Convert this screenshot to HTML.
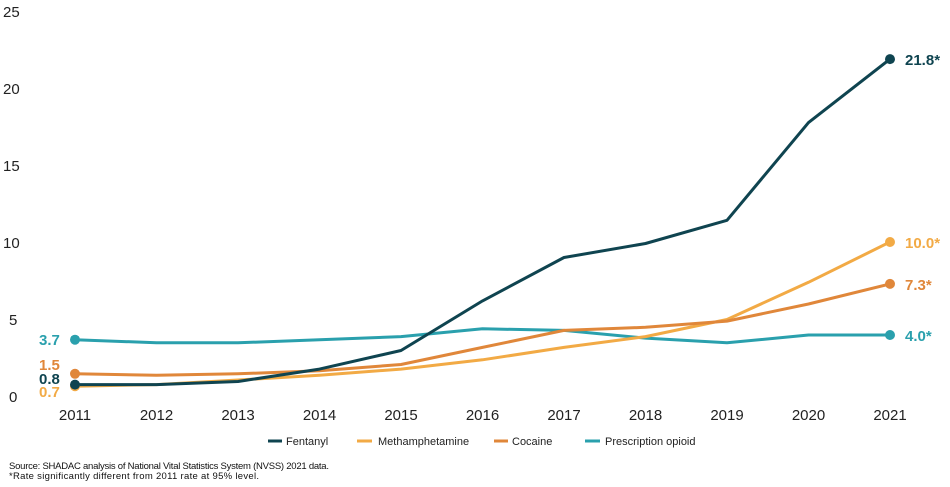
<!DOCTYPE html>
<html><head><meta charset="utf-8"><style>
body{margin:0;background:#fff;}
svg{display:block;font-family:"Liberation Sans",sans-serif;}
</style></head><body>
<svg width="950" height="487" viewBox="0 0 950 487">
<g font-size="15" fill="#222">
<text x="3" y="17">25</text>
<text x="3" y="94">20</text>
<text x="3" y="171">15</text>
<text x="3" y="248">10</text>
<text x="9" y="325">5</text>
<text x="9" y="402">0</text>
</g>
<g font-size="15" fill="#222" text-anchor="middle">
<text x="75" y="420">2011</text><text x="156.5" y="420">2012</text><text x="238" y="420">2013</text>
<text x="319.5" y="420">2014</text><text x="401" y="420">2015</text><text x="482.5" y="420">2016</text>
<text x="564" y="420">2017</text><text x="645.5" y="420">2018</text><text x="727" y="420">2019</text>
<text x="808.5" y="420">2020</text><text x="890" y="420">2021</text>
</g>
<g fill="none" stroke-width="3" stroke-linejoin="round" stroke-linecap="round">
<polyline stroke="#2aa0ad" points="75,339.7 156.5,342.8 238,342.8 319.5,339.7 401,336.6 482.5,328.8 564,330.4 645.5,338.1 727,342.8 808.5,335 890,335"/>
<polyline stroke="#f2aa45" points="75,386.2 156.5,384.6 238,380 319.5,375.3 401,369.1 482.5,359.8 564,347.4 645.5,336.6 727,319.5 808.5,282.3 890,242"/>
<polyline stroke="#e0873a" points="75,373.8 156.5,375.3 238,373.8 319.5,370.7 401,364.5 482.5,347.4 564,330.4 645.5,327.3 727,321.1 808.5,304 890,283.9"/>
<polyline stroke="#0f4450" points="75,384.6 156.5,384.6 238,381.5 319.5,369.1 401,350.5 482.5,300.9 564,257.5 645.5,243.5 727,220.3 808.5,122.6 890,59.1"/>
</g>
<circle cx="75" cy="339.7" r="5" fill="#2aa0ad"/><circle cx="890" cy="335" r="5" fill="#2aa0ad"/>
<circle cx="75" cy="386.2" r="5" fill="#f2aa45"/><circle cx="890" cy="242" r="5" fill="#f2aa45"/>
<circle cx="75" cy="373.8" r="5" fill="#e0873a"/><circle cx="890" cy="283.9" r="5" fill="#e0873a"/>
<circle cx="75" cy="384.6" r="5" fill="#0f4450"/><circle cx="890" cy="59.1" r="5" fill="#0f4450"/>
<g font-size="15" font-weight="bold">
<text x="39" y="345" fill="#2aa0ad">3.7</text>
<text x="39" y="370" fill="#e0873a">1.5</text>
<text x="39" y="384" fill="#0f4450">0.8</text>
<text x="39" y="397" fill="#f2aa45">0.7</text>
<text x="905" y="65" fill="#0f4450">21.8*</text>
<text x="905" y="248" fill="#f2aa45">10.0*</text>
<text x="905" y="290" fill="#e0873a">7.3*</text>
<text x="905" y="341" fill="#2aa0ad">4.0*</text>
</g>
<g stroke-width="3">
<line x1="268" y1="441" x2="282" y2="441" stroke="#0f4450"/>
<line x1="357" y1="441" x2="372" y2="441" stroke="#f2aa45"/>
<line x1="494" y1="441" x2="508" y2="441" stroke="#e0873a"/>
<line x1="585" y1="441" x2="600" y2="441" stroke="#2aa0ad"/>
</g>
<g font-size="11" fill="#222">
<text x="286" y="445">Fentanyl</text>
<text x="378" y="445">Methamphetamine</text>
<text x="512" y="445">Cocaine</text>
<text x="605" y="445">Prescription opioid</text>
</g>
<g font-size="9.5" fill="#111">
<text x="9" y="469" textLength="320">Source: SHADAC analysis of National Vital Statistics System (NVSS) 2021 data.</text>
<text x="9" y="479" textLength="250">*Rate significantly different from 2011 rate at 95% level.</text>
</g>
</svg>
</body></html>
